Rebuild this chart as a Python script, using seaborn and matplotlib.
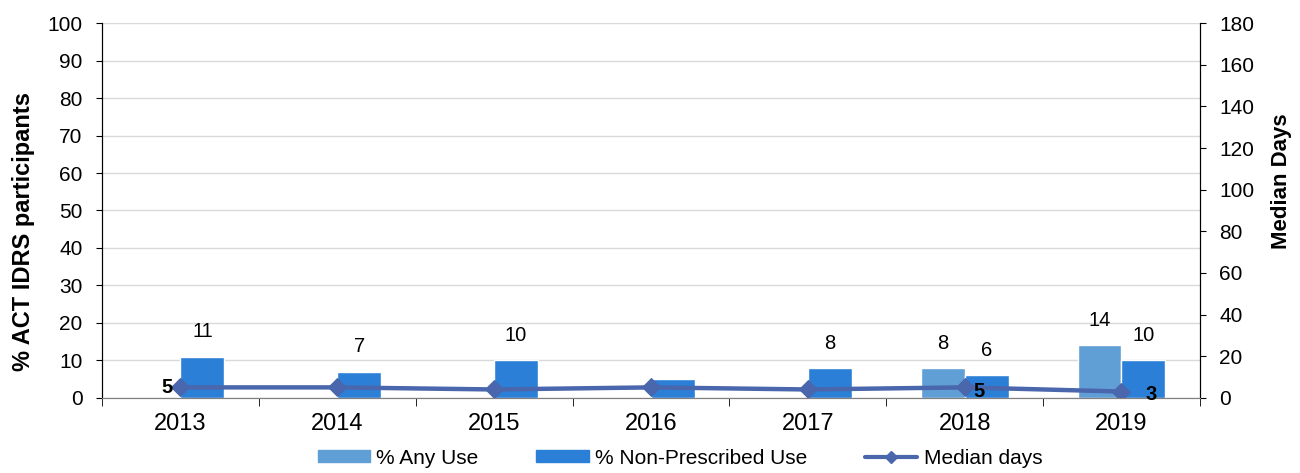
import numpy as np
import pandas as pd
import matplotlib
matplotlib.use("Agg")
import matplotlib.pyplot as plt
import seaborn as sns
from matplotlib.patches import Patch
from matplotlib.lines import Line2D

years = ["2013", "2014", "2015", "2016", "2017", "2018", "2019"]
any_use = [np.nan, np.nan, np.nan, np.nan, np.nan, 8, 14]
non_prescribed = [11, 7, 10, 5, 8, 6, 10]
median_days = [5, 5, 4, 5, 4, 5, 3]
any_labels = ["", "", "", "", "", "8", "14"]
np_labels = ["11", "7", "10", "", "8", "6", "10"]
median_labels = ["5", "", "", "", "", "5", "3"]

series_names = ["% Any Use", "% Non-Prescribed Use"]
line_name = "Median days"

c_any = "#609ED6"
c_np = "#2B7FD6"
c_line = "#4A66AC"

sns.set_style("white")
plt.rcParams["font.family"] = ["Liberation Sans", "DejaVu Sans"]
plt.rcParams["text.color"] = "black"
plt.rcParams["axes.labelcolor"] = "black"
plt.rcParams["xtick.color"] = "black"
plt.rcParams["ytick.color"] = "black"

df = pd.DataFrame({
    "year": years * 2,
    "series": [series_names[0]] * len(years) + [series_names[1]] * len(years),
    "value": list(any_use) + list(non_prescribed),
})

fig = plt.figure(figsize=(13, 4.73), dpi=100)
ax = fig.add_axes([0.0785, 0.159, 0.8445, 0.792])

sns.barplot(data=df, x="year", y="value", hue="series", order=years,
            hue_order=series_names, palette=[c_any, c_np], width=0.56,
            saturation=1, errorbar=None, ax=ax, legend=False)

ax.set_ylim(0, 100)
ax.set_xlim(-0.5, len(years) - 0.5)
ax.set_yticks(np.arange(0, 101, 10))
ax.grid(axis="y", color="#D9D9D9", linewidth=1)
ax.set_axisbelow(True)
ax.set_xlabel("")
ax.set_ylabel("% ACT IDRS participants", fontsize=17, fontweight="bold")
ax.yaxis.set_label_coords(-0.061, 0.445)
ax.tick_params(axis="y", labelsize=15, length=4, pad=10, direction="out",
               color="black", labelcolor="black", left=True)
ax.tick_params(axis="x", which="major", labelsize=17, length=0, pad=11, labelcolor="black")
ax.set_xticks(np.arange(-0.5, len(years) + 0.5, 1), minor=True)
ax.tick_params(axis="x", which="minor", length=6, direction="out", color="black", bottom=True)
ax.spines["top"].set_visible(False)
ax.spines["left"].set_color("black")
ax.spines["bottom"].set_color("#808080")
ax.spines["right"].set_color("black")

# bar value labels
offset = 0.14
for i, (a, lab) in enumerate(zip(any_use, any_labels)):
    if lab:
        ax.annotate(lab, (i - offset, a), xytext=(0, 11), textcoords="offset points",
                    ha="center", va="bottom", fontsize=14.5, color="black")
for i, (v, lab) in enumerate(zip(non_prescribed, np_labels)):
    if lab:
        ax.annotate(lab, (i + offset, v), xytext=(0, 11), textcoords="offset points",
                    ha="center", va="bottom", fontsize=14.5, color="black")

ax2 = ax.twinx()
xpos = np.arange(len(years))
sns.lineplot(x=xpos, y=median_days, ax=ax2, color=c_line, linewidth=3.2,
             marker="D", markersize=9, markeredgecolor=c_line, legend=False)
ax2.set_ylim(0, 180)
ax2.set_yticks(np.arange(0, 181, 20))
ax2.set_ylabel("Median Days", fontsize=16, fontweight="bold", labelpad=12)
ax2.yaxis.label.set_y(0.579)
ax2.tick_params(axis="y", labelsize=15, length=4, pad=10, direction="out",
                color="black", labelcolor="black", right=True)
ax2.spines["top"].set_visible(False)
ax2.spines["right"].set_color("black")
ax2.spines["left"].set_color("black")
ax2.spines["bottom"].set_color("#808080")
ax2.set_xlim(-0.5, len(years) - 0.5)

median_offsets = {0: (-10, 0), 5: (10, -3.3), 6: (21, -2)}
for i, (v, lab) in enumerate(zip(median_days, median_labels)):
    if not lab:
        continue
    dx, dy = median_offsets.get(i, (10, -3))
    ax2.annotate(lab, (i, v), xytext=(dx, dy), textcoords="offset points",
                 ha="center", va="center", fontsize=14.5, fontweight="bold",
                 color="black")

handles = [Patch(facecolor=c_any, edgecolor=c_any),
           Patch(facecolor=c_np, edgecolor=c_np),
           Line2D([0], [0], color=c_line, linewidth=3, marker="D", markersize=6)]
fig.legend(handles, series_names + [line_name], loc="center",
           bbox_to_anchor=(0.523, 0.0317), ncol=3, frameon=False, fontsize=15,
           handlelength=2.5, handleheight=0.55, handletextpad=0.3,
           columnspacing=2.8, borderpad=0, borderaxespad=0, labelcolor="black")

fig.savefig("out.png", dpi=100)
